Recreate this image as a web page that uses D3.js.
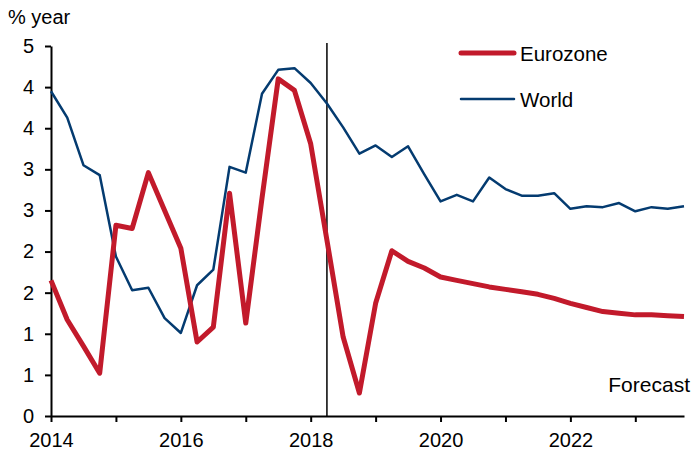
<!DOCTYPE html>
<html>
<head>
<meta charset="utf-8">
<script src="https://cdn.jsdelivr.net/npm/d3@7"></script>
<style>
  body { margin: 0; background: #fff; }
  svg text { font-family: "Liberation Sans", Arial, sans-serif; fill: #000; }
</style>
</head>
<body>
<svg id="chart" width="694" height="452"></svg>
<script>
// ---- Data (quarterly, 2014Q1 .. 2023Q4) ----
const startYear = 2014;
const eurozone = [1.65, 1.17, 0.85, 0.52, 2.32, 2.28, 2.96, 2.50, 2.04, 0.90,
                  1.08, 2.71, 1.13, 2.65, 4.10, 3.96, 3.31, 2.14, 0.96, 0.28,
                  1.37, 2.01, 1.88, 1.80, 1.69, 1.65, 1.61, 1.57, 1.54, 1.51,
                  1.48, 1.43, 1.37, 1.32, 1.27, 1.25, 1.23, 1.23, 1.22, 1.21];
const world = [3.95, 3.63, 3.05, 2.93, 1.94, 1.53, 1.56, 1.19, 1.01, 1.59,
               1.78, 3.03, 2.96, 3.92, 4.21, 4.23, 4.05, 3.80, 3.51, 3.19,
               3.29, 3.15, 3.28, 2.94, 2.61, 2.69, 2.61, 2.90, 2.76, 2.68,
               2.68, 2.71, 2.52, 2.55, 2.54, 2.59, 2.49, 2.54, 2.52, 2.55];
const quarters = eurozone.map((_, i) => startYear + i / 4);

const yTicks = [0, 0.5, 1, 1.5, 2, 2.5, 3, 3.5, 4, 4.5];
const yTickLabels = ['0', '1', '1', '2', '2', '3', '3', '4', '4', '5'];
const xTicks = [2014, 2015, 2016, 2017, 2018, 2019, 2020, 2021, 2022, 2023];
const xTickLabels = { 2014: '2014', 2016: '2016', 2018: '2018', 2020: '2020', 2022: '2022' };
const forecastStart = 2018.25;

const RED = '#c21a2b';
const BLUE = '#043b70';

const svg = d3.select('#chart');

const x = d3.scaleLinear().domain([2014, 2023.75]).range([51, 684]);
const y = d3.scaleLinear().domain([0, 4.5]).range([416, 46]);

// ---- Axes ----
const yAxis = d3.axisLeft(y)
  .tickValues(yTicks)
  .tickFormat((d, i) => yTickLabels[i])
  .tickSize(6)
  .tickSizeOuter(0)
  .tickPadding(11);

const xAxis = d3.axisBottom(x)
  .tickValues(xTicks)
  .tickFormat(d => xTickLabels[d] || '')
  .tickSize(6)
  .tickSizeOuter(0)
  .tickPadding(11);

const gy = svg.append('g').attr('transform', `translate(${x.range()[0]},0)`).call(yAxis);
const gx = svg.append('g').attr('transform', `translate(0,${y(0)})`).call(xAxis);

[gy, gx].forEach(g => {
  g.select('.domain').attr('stroke', '#000').attr('stroke-width', 2);
  g.selectAll('.tick line').attr('stroke', '#000').attr('stroke-width', 2);
  g.selectAll('.tick text').attr('font-size', 20).attr('fill', '#000')
    .style('font-family', '"Liberation Sans", Arial, sans-serif');
});

// ---- Forecast divider ----
svg.append('line')
  .attr('x1', x(forecastStart)).attr('x2', x(forecastStart))
  .attr('y1', 43).attr('y2', y(0))
  .attr('stroke', '#000').attr('stroke-width', 1.5);

// ---- Lines ----
const line = d3.line().x((d, i) => x(quarters[i])).y(d => y(d));

svg.append('path')
  .datum(world)
  .attr('d', line)
  .attr('fill', 'none')
  .attr('stroke', BLUE)
  .attr('stroke-width', 2.5)
  .attr('stroke-linejoin', 'round');

svg.append('path')
  .datum(eurozone)
  .attr('d', line)
  .attr('fill', 'none')
  .attr('stroke', RED)
  .attr('stroke-width', 5)
  .attr('stroke-linejoin', 'round');

// ---- Texts ----
svg.append('text').attr('x', 8).attr('y', 24).attr('font-size', 20).text('% year');

svg.append('text')
  .attr('x', 690).attr('y', 392)
  .attr('text-anchor', 'end')
  .attr('font-size', 21)
  .text('Forecast');

// ---- Legend ----
const legend = [
  { name: 'Eurozone', color: RED, width: 5, y: 53 },
  { name: 'World', color: BLUE, width: 2.5, y: 99 }
];
const lg = svg.append('g').selectAll('g').data(legend).join('g');
lg.append('line')
  .attr('x1', 461).attr('x2', 514)
  .attr('y1', d => d.y).attr('y2', d => d.y)
  .attr('stroke', d => d.color)
  .attr('stroke-width', d => d.width)
  .attr('stroke-linecap', 'round');
lg.append('text')
  .attr('x', 520).attr('y', d => d.y + 8)
  .attr('font-size', 20.5)
  .text(d => d.name);
</script>
</body>
</html>
